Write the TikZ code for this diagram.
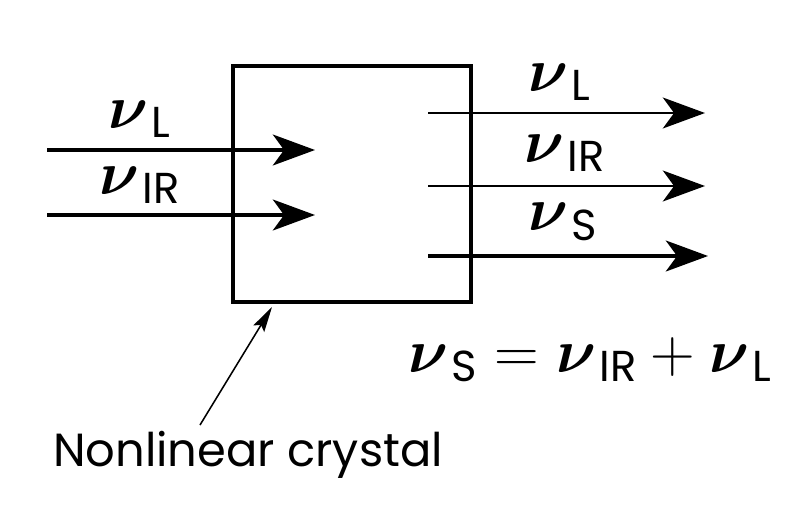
\RequirePackage{fix-cm}
\documentclass[tikz,border=0pt]{standalone}
\usepackage{fontspec}
\setsansfont{Poppins}
\usepackage{amsmath}
\usepackage{bm}
\usetikzlibrary{arrows.meta, positioning}
\tikzset{
  beam/.style={-{Stealth[length=30pt, width=22pt, inset=8pt]}, line width=2.3pt},
  beamThin/.style={-{Stealth[length=30pt, width=22pt, inset=8pt]}, line width=1.6pt},
  pointer/.style={-{Stealth[length=18pt, width=9pt, inset=3pt]}, line width=1.1pt},
  crystalBox/.style={rectangle, draw, line width=3.4pt, minimum width=5.95cm,
                     minimum height=5.9cm, inner sep=0pt},
  freqLbl/.style={font=\fontsize{44}{50}\selectfont, inner sep=0pt},
}
\newcommand{\nub}[1]{$\bm{\nu}_{\,\text{\sffamily #1}}$}

\begin{document}
\begin{tikzpicture}
    \useasboundingbox (0,0) rectangle (19.725,12.775);

    % crystal
    \node[crystalBox] (crystal) at (8.8, 8.175) {};

    % incoming beams
    \coordinate (inL)    at (1.175, 9.025);
    \coordinate (inLend) at (7.875, 9.025);
    \coordinate (inIR)    at (1.175, 7.4);
    \coordinate (inIRend) at (7.875, 7.4);
    \draw[beam] (inL) -- (inLend);
    \draw[beam] (inIR) -- (inIRend);
    \node[freqLbl] (lblInL)  at (3.5, 9.8)  {\nub{L}};
    \node[freqLbl] (lblInIR) at (3.5, 8.15) {\nub{IR}};

    % outgoing beams
    \coordinate (outL)     at (10.7, 9.95);
    \coordinate (outLend)  at (17.625, 9.95);
    \coordinate (outIR)    at (10.7, 8.125);
    \coordinate (outIRend) at (17.625, 8.125);
    \coordinate (outS)     at (10.7, 6.375);
    \coordinate (outSend)  at (17.7, 6.375);
    \draw[beamThin] (outL) -- (outLend);
    \draw[beamThin] (outIR) -- (outIRend);
    \draw[beam] (outS) -- (outSend);
    \node[freqLbl] (lblOutL)  at (14.0, 10.725) {\nub{L}};
    \node[freqLbl] (lblOutIR) at (14.125, 8.95) {\nub{IR}};
    \node[freqLbl] (lblOutS)  at (14.075, 7.225) {\nub{S}};

    % sum frequency relation
    \node[freqLbl] (relation) at (14.75, 3.775)
      {$\bm{\nu}_{\,\text{\sffamily S}} = \bm{\nu}_{\,\text{\sffamily IR}} + \bm{\nu}_{\,\text{\sffamily L}}$};

    % label
    \node[font=\sffamily\fontsize{33}{40}\selectfont, inner sep=0pt] (lblCrystal) at (6.2, 1.4) {Nonlinear crystal};
    \coordinate (ptrStart) at (5.0, 2.15);
    \coordinate (ptrTip)   at (6.8, 5.1);
    \draw[pointer] (ptrStart) -- (ptrTip);
\end{tikzpicture}
\end{document}
